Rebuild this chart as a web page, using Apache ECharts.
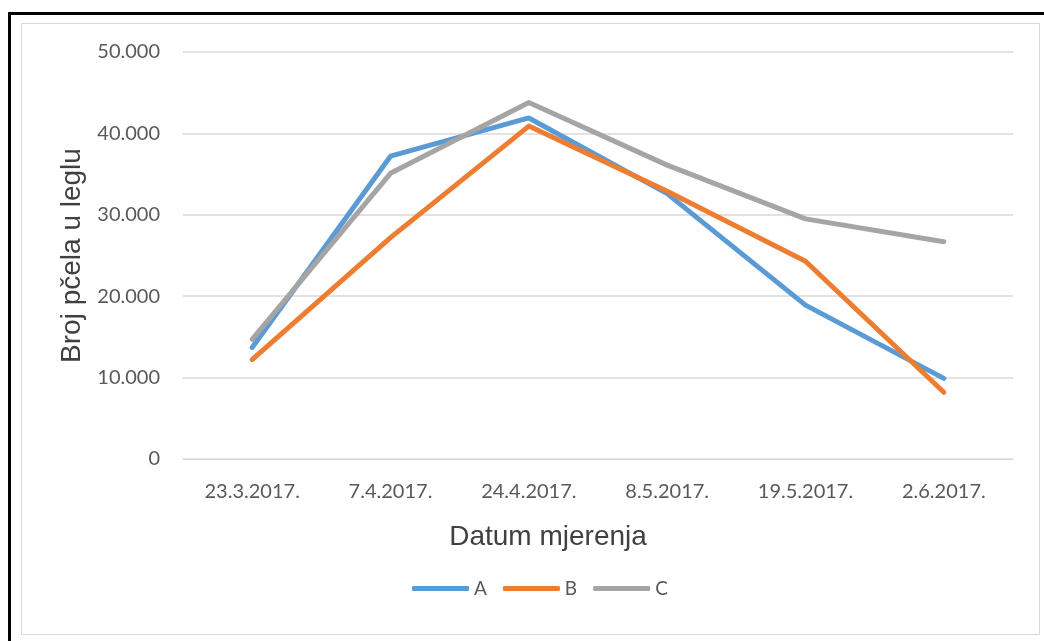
<!DOCTYPE html>
<html>
<head>
<meta charset="utf-8">
<script src="https://cdn.jsdelivr.net/npm/echarts@6/dist/echarts.min.js"></script>
<style>
    html, body { margin: 0; padding: 0; background: #fff; overflow: hidden; }
    #frame { position: absolute; left: 8px; top: 12px; width: 1100px; height: 700px;
             border-left: 3px solid #000; border-top: 3px solid #000; }
    #box { position: absolute; left: 21px; top: 23px; width: 1017px; height: 610px;
           border: 1px solid #d9d9d9; }
    #chart { position: absolute; left: 0; top: 0; width: 1044px; height: 641px; }
</style>
</head>
<body>
<div id="frame"></div>
<div id="box"></div>
<div id="chart"></div>
<script>
    // datumi mjerenja
    var categories = ['23.3.2017.', '7.4.2017.', '24.4.2017.', '8.5.2017.', '19.5.2017.', '2.6.2017.'];
    // broj pčela u leglu po košnici
    var seriesA = [13700, 37200, 41900, 32600, 18900, 9900];
    var seriesB = [12200, 27200, 40900, 32900, 24300, 8200];
    var seriesC = [14700, 35100, 43800, 36100, 29500, 26700];
    var colors = ['#5B9BD5', '#ED7D31', '#A5A5A5'];

    var chart = echarts.init(document.getElementById('chart'), null, { renderer: 'canvas' });

    function fmt(v) {
        return String(v).replace(/\B(?=(\d{3})+(?!\d))/g, '.');
    }

    function lineSeries(name, data, color) {
        return {
            name: name,
            type: 'line',
            data: data,
            symbol: 'none',
            color: color,
            lineStyle: { width: 5, color: color, cap: 'round', join: 'round' }
        };
    }

    var option = {
        animation: false,
        backgroundColor: 'transparent',
        grid: {
            left: 183,
            right: 31,
            top: 52,
            bottom: 182
        },
        legend: {
            data: ['A', 'B', 'C'],
            top: 574,
            left: 407,
            icon: 'roundRect',
            itemWidth: 57,
            itemHeight: 5,
            itemGap: 16,
            textStyle: { fontFamily: 'Lato', fontSize: 19, color: '#595959', padding: [5, 0, 0, 0] }
        },
        xAxis: {
            type: 'category',
            data: categories,
            boundaryGap: true,
            name: 'Datum mjerenja',
            nameLocation: 'middle',
            nameGap: 64,
            nameTextStyle: { fontFamily: 'Liberation Sans', fontSize: 28, color: '#404040', padding: [0, 100, 0, 0] },
            axisLine: { show: true, lineStyle: { color: '#d9d9d9', width: 1 } },
            axisTick: { show: false },
            axisLabel: { fontFamily: 'Lato', fontSize: 20, color: '#595959', margin: 23 }
        },
        yAxis: {
            type: 'value',
            min: 0,
            max: 50000,
            interval: 10000,
            name: 'Broj pčela u leglu',
            nameLocation: 'middle',
            nameGap: 95,
            nameTextStyle: { fontFamily: 'Liberation Sans', fontSize: 28, color: '#404040' },
            axisLine: { show: false },
            axisTick: { show: false },
            splitLine: { lineStyle: { color: '#d9d9d9', width: 1.5 } },
            axisLabel: { fontFamily: 'Lato', fontSize: 20, color: '#595959', margin: 23, formatter: fmt }
        },
        series: [
            lineSeries('A', seriesA, colors[0]),
            lineSeries('B', seriesB, colors[1]),
            lineSeries('C', seriesC, colors[2])
        ]
    };

    chart.setOption(option);
    window.addEventListener('resize', function () {
        chart.resize();
    });
</script>
</body>
</html>
